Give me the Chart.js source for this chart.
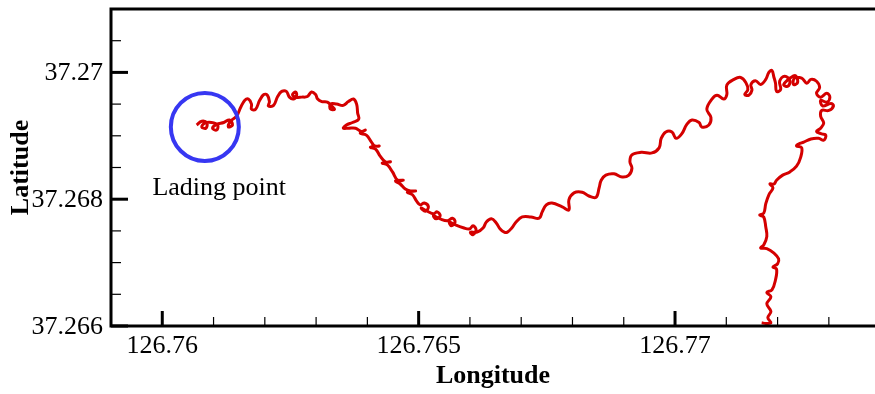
<!DOCTYPE html>
<html lang="en">
<head>
    <meta charset="UTF-8">
    <title>Landing track</title>
    <script src="https://cdn.jsdelivr.net/npm/chart.js"></script>
    <style>
        body { margin: 0; background: #fff; overflow: hidden; }
        .wrap { width: 875px; height: 394px; position: relative; }
    </style>
</head>
<body>
    <div class="wrap"><canvas id="track"></canvas></div>
    <script>
        // track (longitude, latitude)
        const trackLon = [
            126.76067, 126.76077, 126.76087, 126.76085, 126.76077, 126.76083, 126.76096, 126.76108, 126.76106, 126.76098,
            126.76106, 126.7612, 126.76131, 126.76137, 126.76129, 126.76133,
            126.76145, 126.76153, 126.76161, 126.76168, 126.76174, 126.76174, 126.76182, 126.7619, 126.76198, 126.76205,
            126.76209, 126.76207, 126.76217, 126.76225, 126.76233, 126.76242, 126.76248, 126.76256, 126.76262, 126.7626,
            126.76254, 126.7626, 126.76272, 126.76283, 126.76291, 126.76299, 126.76303, 126.76311, 126.76322, 126.7633,
            126.76336, 126.76328, 126.76328, 126.7634, 126.76353, 126.76363, 126.76373, 126.76379,
            126.76381, 126.76383, 126.76371, 126.76359, 126.76353, 126.76363, 126.76377, 126.76388, 126.76396, 126.76386,
            126.76398, 126.76408, 126.76414, 126.76423, 126.76406, 126.76416, 126.76425, 126.76435, 126.76445, 126.76429,
            126.76439, 126.76449, 126.76459, 126.7647, 126.76455, 126.76464, 126.76474, 126.76484, 126.76494, 126.76478,
            126.76488, 126.76496, 126.76503, 126.76511, 126.76519, 126.76513, 126.76505, 126.76517, 126.76529, 126.76536,
            126.76542, 126.76534, 126.76529, 126.76542, 126.76556, 126.76566, 126.76571, 126.76564, 126.7656, 126.76573,
            126.76587, 126.76599, 126.76606, 126.76612, 126.76606, 126.76601, 126.76614, 126.76626, 126.76632, 126.76642,
            126.76651, 126.76659, 126.76667,
            126.76673, 126.76682, 126.7669, 126.76702, 126.76719, 126.76735, 126.76741, 126.76749, 126.7676, 126.7678,
            126.76793, 126.76793, 126.76803, 126.76819, 126.76832, 126.76846, 126.76852, 126.76856, 126.76865, 126.76881,
            126.76897, 126.7691, 126.76916, 126.76912, 126.76916, 126.76934, 126.76955, 126.76969, 126.76973, 126.76982,
            126.76994, 126.77002, 126.77013, 126.77023, 126.77033, 126.77047, 126.77052, 126.77066, 126.7707, 126.77062,
            126.77072, 126.77082, 126.77095, 126.77101, 126.77101, 126.77115, 126.77128, 126.77138, 126.77142, 126.77136,
            126.77144, 126.7715, 126.77148, 126.77157, 126.77167, 126.77177, 126.77183, 126.77189, 126.77193,
            126.77196, 126.77198, 126.77206, 126.77204, 126.77214, 126.77224, 126.7722, 126.77212, 126.77226, 126.77235,
            126.77239, 126.77231, 126.77233, 126.77247, 126.77257, 126.77265, 126.77276, 126.77282, 126.77276, 126.77284,
            126.77296, 126.77302, 126.77296, 126.77284, 126.77288, 126.77304, 126.77309, 126.773, 126.77286, 126.77284,
            126.7729, 126.77284, 126.77276, 126.77286, 126.77294, 126.7729, 126.7728, 126.77265, 126.77251, 126.77241,
            126.77237, 126.77247, 126.77245, 126.77237, 126.77224, 126.7721, 126.77198, 126.77193, 126.77185, 126.77191,
            126.77183, 126.77177, 126.77173, 126.77165, 126.77173, 126.77177, 126.77179, 126.77173, 126.77167, 126.77179,
            126.77193, 126.77202, 126.772, 126.77191, 126.77198, 126.77196, 126.77189, 126.77179, 126.77187, 126.77179,
            126.77187, 126.77181, 126.77187, 126.77177, 126.77169
        ];
        const trackLat = [
            37.26917, 37.26923, 37.2692, 37.26912, 37.26914, 37.2692, 37.26921, 37.26917, 37.26909, 37.26912,
            37.26918, 37.26921, 37.26925, 37.26917, 37.26914, 37.26923,
            37.26931, 37.26945, 37.26956, 37.26958, 37.2695, 37.26942, 37.26942, 37.26956, 37.26965, 37.26964,
            37.26954, 37.26947, 37.26948, 37.26962, 37.2697, 37.2697, 37.26961, 37.26958, 37.26964, 37.26969,
            37.26965, 37.26961, 37.26961, 37.26962, 37.26969, 37.26965, 37.26958, 37.26954, 37.26953, 37.26947,
            37.26942, 37.26942, 37.2695, 37.2695, 37.26948, 37.26954, 37.26958, 37.2695,
            37.26936, 37.26926, 37.26921, 37.26917, 37.26912, 37.26912, 37.26912, 37.26907, 37.26909, 37.26904,
            37.26901, 37.2689, 37.26884, 37.26884, 37.26882, 37.26879, 37.26868, 37.26859, 37.26859, 37.26857,
            37.26854, 37.26843, 37.2683, 37.2683, 37.26829, 37.26824, 37.26816, 37.26813, 37.26813, 37.26811,
            37.26807, 37.26797, 37.26791, 37.26794, 37.26788, 37.26781, 37.26786, 37.26781, 37.26777, 37.2678,
            37.26774, 37.26769, 37.26774, 37.26769, 37.26766, 37.2677, 37.26764, 37.26758, 37.26764, 37.26759,
            37.26755, 37.26753, 37.26758, 37.26752, 37.26744, 37.26748, 37.26748, 37.26755, 37.26764, 37.26769,
            37.26763, 37.26753, 37.26748,
            37.26748, 37.26755, 37.26764, 37.26772, 37.26772, 37.2677, 37.2678, 37.26791, 37.26794, 37.26788,
            37.26783, 37.26799, 37.2681, 37.26811, 37.26805, 37.26803, 37.26818, 37.2683, 37.26838, 37.2684,
            37.26835, 37.26838, 37.26849, 37.26859, 37.2687, 37.26874, 37.26873, 37.26881, 37.26896, 37.26906,
            37.26906, 37.26896, 37.26903, 37.26918, 37.26925, 37.26921, 37.26914, 37.26917, 37.26929, 37.26942,
            37.26958, 37.26964, 37.26958, 37.26965, 37.2698, 37.26989, 37.26992, 37.26984, 37.26973, 37.26965,
            37.26964, 37.26972, 37.26981, 37.26987, 37.26981, 37.26989, 37.27, 37.27003, 37.26992,
            37.26983, 37.2697, 37.26973, 37.26986, 37.26994, 37.26987, 37.26978, 37.26981, 37.26992, 37.26995,
            37.26984, 37.26981, 37.26991, 37.26991, 37.26983, 37.26989, 37.26986, 37.26976, 37.26967, 37.26961,
            37.26967, 37.26961, 37.26953, 37.26956, 37.26947, 37.26951, 37.26947, 37.2694, 37.2694, 37.26931,
            37.2692, 37.26912, 37.26907, 37.26903, 37.26901, 37.26893, 37.26896, 37.26895, 37.2689, 37.26887,
            37.26884, 37.26881, 37.26866, 37.26852, 37.26843, 37.26838, 37.2683, 37.26824, 37.26824, 37.26818,
            37.26807, 37.26793, 37.26778, 37.26775, 37.26772, 37.26756, 37.26741, 37.26728, 37.26723, 37.26722,
            37.26715, 37.26706, 37.26698, 37.26693, 37.2669, 37.26673, 37.26657, 37.26653, 37.26646, 37.26635,
            37.26623, 37.26613, 37.26605, 37.26604, 37.26605
        ];

        // landing marker and its note
        const landingLon = [126.76083];
        const landingLat = [37.26914];
        const noteText = 'Lading point';
        const noteLon = 126.76111;
        const noteLat = 37.26818;

        // axis ticks and titles
        const xTicks = [126.759, 126.76, 126.761, 126.762, 126.763, 126.764, 126.765, 126.766, 126.767,
            126.768, 126.769, 126.77, 126.771, 126.772, 126.773];
        const xMajor = [126.76, 126.765, 126.77];
        const yTicks = [37.266, 37.2665, 37.267, 37.2675, 37.268, 37.2685, 37.269, 37.2695, 37.27, 37.2705, 37.271];
        const yMajor = [37.266, 37.268, 37.27];
        const xTitle = 'Longitude';
        const yTitle = 'Latitude';

        const isMajor = (list, v) => list.some(m => Math.abs(m - v) < 1e-7);
        const serif = '"Liberation Serif", "Times New Roman", serif';

        // inward ticks, open frame, labels and the note
        const framePlugin = {
            id: 'frame',
            afterDatasetsDraw(chart) {
                const { ctx, chartArea: a, scales: { x, y } } = chart;
                ctx.save();
                ctx.strokeStyle = '#000';
                xTicks.forEach(v => {
                    const px = x.getPixelForValue(v);
                    const major = isMajor(xMajor, v);
                    ctx.lineWidth = major ? 3 : 1.2;
                    ctx.beginPath();
                    ctx.moveTo(px, a.bottom);
                    ctx.lineTo(px, a.bottom - (major ? 15 : 9));
                    ctx.stroke();
                });
                yTicks.forEach(v => {
                    const py = y.getPixelForValue(v);
                    const major = isMajor(yMajor, v);
                    ctx.lineWidth = major ? 3 : 1.2;
                    ctx.beginPath();
                    ctx.moveTo(a.left, py);
                    ctx.lineTo(a.left + (major ? 17 : 10), py);
                    ctx.stroke();
                });
                ctx.lineWidth = 3;
                ctx.beginPath();
                ctx.moveTo(a.right + 5, a.top);
                ctx.lineTo(a.left, a.top);
                ctx.lineTo(a.left, a.bottom);
                ctx.lineTo(a.right + 5, a.bottom);
                ctx.stroke();

                ctx.fillStyle = '#000';
                ctx.font = '26px ' + serif;
                ctx.textAlign = 'center';
                ctx.textBaseline = 'middle';
                xMajor.forEach(v => ctx.fillText(String(v), x.getPixelForValue(v), a.bottom + 20));
                ctx.textAlign = 'right';
                yMajor.forEach(v => ctx.fillText(String(v), a.left - 8, y.getPixelForValue(v) + 1));
                ctx.textAlign = 'center';
                ctx.fillText(noteText, x.getPixelForValue(noteLon), y.getPixelForValue(noteLat));

                ctx.font = 'bold 26px ' + serif;
                ctx.fillText(xTitle, (a.left + a.right) / 2, a.bottom + 50);
                ctx.translate(21, (a.top + a.bottom) / 2);
                ctx.rotate(-Math.PI / 2);
                ctx.fillText(yTitle, 0, 0);
                ctx.restore();
            }
        };

        new Chart(document.getElementById('track'), {
            type: 'scatter',
            data: {
                datasets: [{
                    label: 'Landing point',
                    data: landingLon.map((v, i) => ({ x: v, y: landingLat[i] })),
                    pointRadius: 34,
                    pointHoverRadius: 34,
                    pointBorderWidth: 4,
                    pointBorderColor: '#3737f2',
                    pointBackgroundColor: 'rgba(0,0,0,0)',
                    showLine: false
                }, {
                    label: 'Track',
                    data: trackLon.map((v, i) => ({ x: v, y: trackLat[i] })),
                    showLine: true,
                    borderColor: '#d40000',
                    borderWidth: 3,
                    tension: 0.4,
                    pointRadius: 0,
                    pointHoverRadius: 0
                }]
            },
            options: {
                responsive: true,
                maintainAspectRatio: false,
                animation: false,
                layout: { autoPadding: false, padding: { left: 111, top: 9, right: 0, bottom: 68 } },
                plugins: { legend: { display: false }, tooltip: { enabled: false } },
                scales: {
                    x: {
                        type: 'linear',
                        display: false,
                        min: 126.759,
                        max: 126.7739,
                        afterBuildTicks: s => { s.ticks = xTicks.map(v => ({ value: v })); }
                    },
                    y: {
                        type: 'linear',
                        display: false,
                        min: 37.266,
                        max: 37.271,
                        afterBuildTicks: s => { s.ticks = yTicks.map(v => ({ value: v })); }
                    }
                }
            },
            plugins: [framePlugin]
        });
    </script>
</body>
</html>
